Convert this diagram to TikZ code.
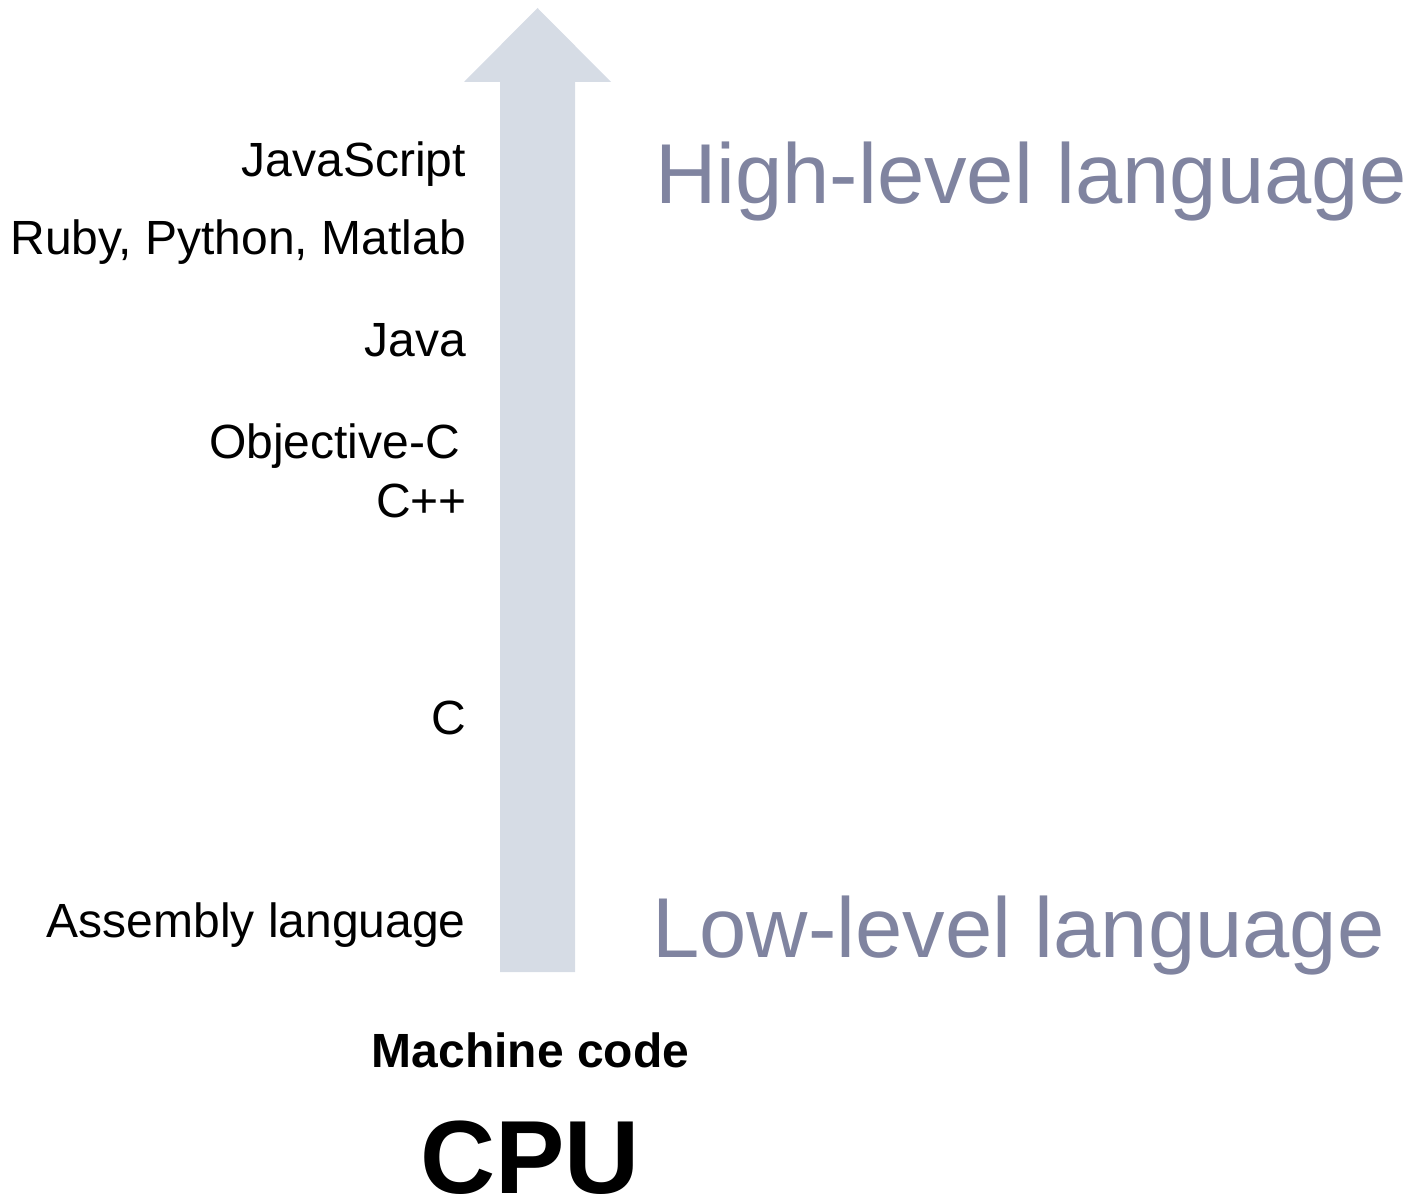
\documentclass[tikz,border=0pt]{standalone}
\usepackage{fontspec}
\setmainfont{Liberation Sans}
\definecolor{arrowfill}{RGB}{214,220,229}
\definecolor{levelcol}{RGB}{128,132,160}
\begin{document}
\begin{tikzpicture}[x=1pt,y=-1pt,
  lang/.style={anchor=base east,inner sep=0pt,font=\fontsize{48}{52}\selectfont},
  level/.style={anchor=base west,inner sep=0pt,text=levelcol,font=\fontsize{85}{90}\selectfont},
  bottom/.style={anchor=base,inner sep=0pt,font=\bfseries\fontsize{48}{52}\selectfont}]
\useasboundingbox (0,0) rectangle (1427,1204);
% arrow
\fill[arrowfill] (500,972) -- (500,82) -- (464,82) -- (537.5,8) -- (611,82) -- (575,82) -- (575,972) -- cycle;
% language labels
\node[lang] (js) at (466,176) {JavaScript};
\node[lang] (ruby) at (466,254) {Ruby, Python, Matlab};
\node[lang] (java) at (466,356) {Java};
\node[lang] (objc) at (460,458) {Objective-C};
\node[lang] (cpp) at (467,517) {C++};
\node[lang] (c) at (466,734) {C};
\node[lang] (asm) at (466,937) {Assembly language};
% level labels
\node[level] (high) at (655,203) {High-level language};
\node[level] (low) at (652,957) {Low-level language};
% bottom
\node[bottom] (mc) at (530.5,1067) {Machine code};
\node[anchor=base,inner sep=0pt,font=\bfseries\fontsize{104}{110}\selectfont] (cpu) at (530,1193) {CPU};
\end{tikzpicture}
\end{document}
